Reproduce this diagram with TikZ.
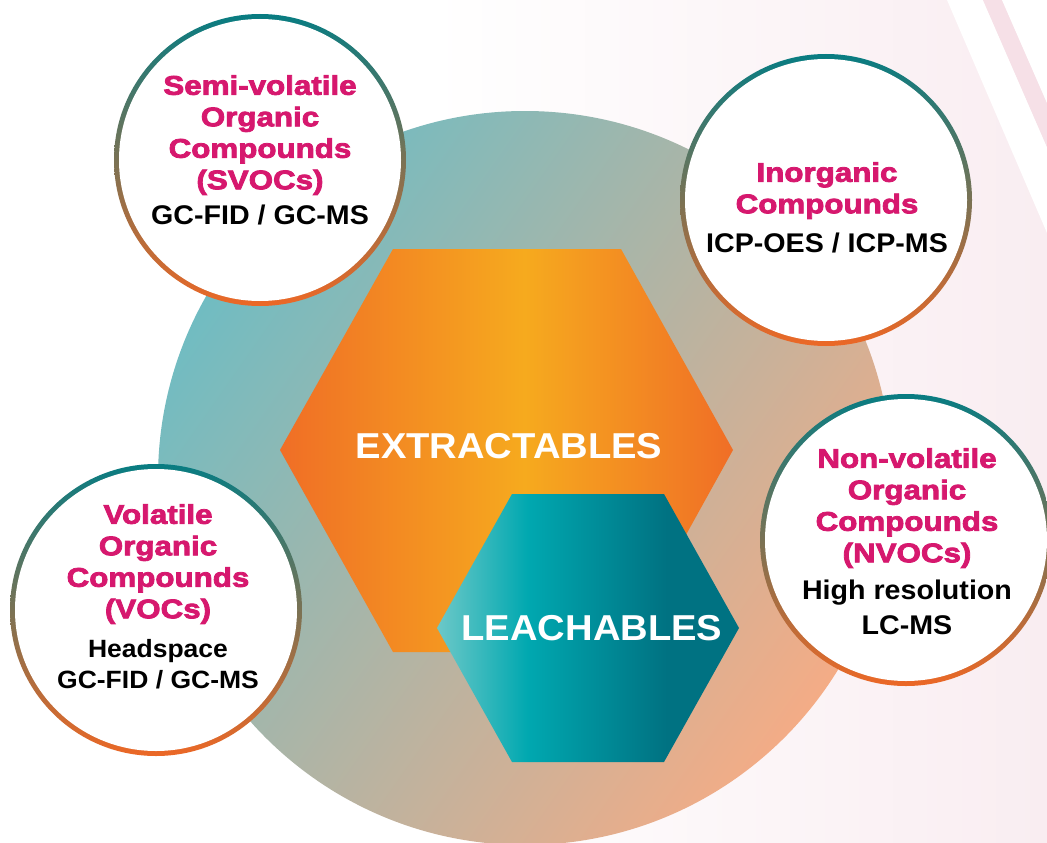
\documentclass[tikz,border=0pt]{standalone}
\usepackage{fontspec}
\setmainfont{Liberation Sans}
\newfontfamily\namefont[FakeStretch=1.16,BoldFeatures={FakeBold=3}]{Liberation Sans}
\newfontfamily\methodfont[FakeStretch=1.06]{Liberation Sans}
\definecolor{bgpink}{RGB}{249,237,241}
\definecolor{stripepink}{RGB}{246,224,231}
\definecolor{bigteal}{RGB}{112,188,194}
\definecolor{bigpeach}{RGB}{244,172,134}
\definecolor{ringteal}{RGB}{8,124,130}
\definecolor{ringorange}{RGB}{236,104,38}
\definecolor{extorange}{RGB}{240,110,38}
\definecolor{extyellow}{RGB}{246,170,30}
\definecolor{leachlight}{RGB}{108,200,200}
\definecolor{leachmid}{RGB}{0,168,176}
\definecolor{leachdark}{RGB}{0,114,130}
\definecolor{cmpmagenta}{RGB}{214,24,110}
\usetikzlibrary{positioning}

\pgfdeclarehorizontalshading{extshade}{100bp}{color(0bp)=(extorange); color(25bp)=(extorange); color(52bp)=(extyellow); color(75bp)=(extorange); color(100bp)=(extorange)}
\pgfdeclarehorizontalshading{leachshade}{100bp}{color(0bp)=(leachlight); color(25bp)=(leachlight); color(40bp)=(leachmid); color(63bp)=(leachdark); color(100bp)=(leachdark)}

\tikzset{
  ring/.style={circle, minimum size=292pt, inner sep=0pt, top color=ringteal, bottom color=ringorange},
  disc/.style={circle, minimum size=282pt, inner sep=0pt, fill=white},
  cmpname/.style={anchor=north, align=center, inner sep=0pt, text=cmpmagenta, font=\namefont\bfseries\fontsize{27}{31.5}\selectfont},
  method/.style={align=center, inner sep=0pt, text=black, font=\methodfont\bfseries\fontsize{27}{35}\selectfont},
  hexlabel/.style={text=white, inner sep=0pt, font=\methodfont\bfseries\fontsize{36}{40}\selectfont},
}

\begin{document}
\begin{tikzpicture}[x=1pt, y=-1pt]
  \useasboundingbox (0,0) rectangle (1047,843);

  % Background with the stripes top right
  \fill[white] (0,0) rectangle (1047,843);
  \shade[left color=white, right color=bgpink] (430,0) rectangle (1047,843);
  \fill[white] (947,0) -- (983,0) -- (1047,147) -- (1047,233) -- cycle;
  \fill[stripepink] (983,0) -- (1002,0) -- (1047,103) -- (1047,147) -- cycle;
  \fill[white] (1002,0) -- (1047,0) -- (1047,103) -- cycle;

  % Big circle
  \shade[top color=bigteal, bottom color=bigpeach, shading angle=55] (525,478) circle [radius=367];

  % Hexagons
  \shade[shading=extshade] (280,450) -- (393,249) -- (621,249) -- (733,450) -- (621,652) -- (393,652) -- cycle;
  \shade[shading=leachshade] (437,628) -- (512,494) -- (664,494) -- (739,628) -- (664,762) -- (512,762) -- cycle;
  \node[hexlabel] (extract) at (509,446) {EXTRACTABLES};
  \node[hexlabel] (leach) at (592,628) {LEACHABLES};

  % Compound circles
  \foreach \nm/\cx/\cy in {svoc/260/160, inorg/826/200, voc/156/610, nvoc/906/540}{
    \node[ring] (\nm-ring) at (\cx,\cy) {};
    \node[disc] (\nm) at (\cx,\cy) {};
  }

  % Texts
  \node[cmpname] (svocname) at (260,75) {Semi-volatile\\Organic\\Compounds\\(SVOCs)};
  \node[method, below=10pt of svocname] (svocmethod) {GC-FID / GC-MS};

  \node[cmpname] (inorgname) at (827,162) {Inorganic\\Compounds};
  \node[method, below=14pt of inorgname] (inorgmethod) {ICP-OES / ICP-MS};

  \node[cmpname] (vocname) at (158,504) {Volatile\\Organic\\Compounds\\(VOCs)};
  \node[method, below=15pt of vocname, font=\methodfont\bfseries\fontsize{25}{31.5}\selectfont] (vocmethod) {Headspace\\GC-FID / GC-MS};

  \node[cmpname] (nvocname) at (907,448) {Non-volatile\\Organic\\Compounds\\(NVOCs)};
  \node[method, below=12pt of nvocname] (nvocmethod) {High resolution\\LC-MS};
\end{tikzpicture}
\end{document}
